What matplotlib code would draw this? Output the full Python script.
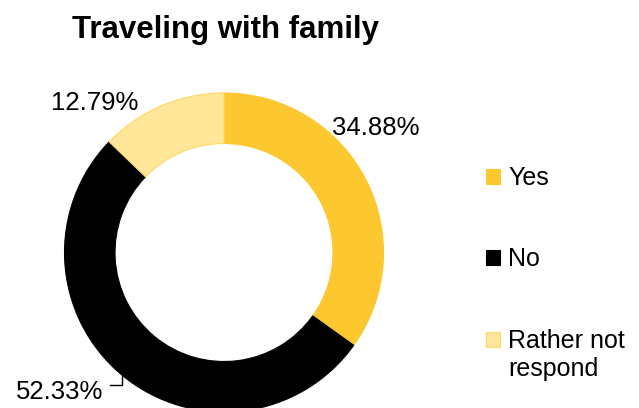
import matplotlib
matplotlib.use("Agg")
import matplotlib.pyplot as plt
import numpy as np

plt.rcParams["font.family"] = ["Liberation Sans", "DejaVu Sans"]

# 回答の内訳
title = "Traveling with family"
categories = ["Yes", "No", "Rather not respond"]
shares = [34.88, 52.33, 12.79]
colors = ["#FDC82F", "#000000", "#FFE699"]
edge_colors = ["#FDC82F", "#000000", "#FFD966"]

# 描画位置（ピクセル座標、y は下から）
W, H = 639, 408
cx, cy, r_out, ring = 224, 155.5, 159.5, 50.5
label_pos = [(376, 273), (60, 9), (94.5, 298)]

fig = plt.figure(figsize=(W / 100, H / 100), dpi=100)
ax = fig.add_axes([0, 0, 1, 1])

wedges, _ = ax.pie(shares, colors=colors, startangle=90, counterclock=False,
                   center=(cx, cy), radius=r_out,
                   wedgeprops=dict(width=ring, linewidth=0.8))
for w, ec in zip(wedges, edge_colors):
    w.set_edgecolor(ec)

ax.set_xlim(0, W)
ax.set_ylim(0, H)
ax.set_aspect("equal")
ax.axis("off")

for val, (tx, ty) in zip(shares, label_pos):
    ax.text(tx, ty, f"{val:.2f}%", ha="center", va="baseline", fontsize=18.5)

# "No" のラベルは引き出し線つき
mid = np.deg2rad((wedges[1].theta1 + wedges[1].theta2) / 2)
ex, ey = cx + r_out * np.cos(mid), cy + r_out * np.sin(mid)
ax.plot([ex - 12, ex, ex], [ey - 10, ey - 10, ey], color="black", lw=1)

ax.text(225, 369.7, title, ha="center", va="baseline",
        fontsize=22.5, fontweight="bold")

# 凡例：長いラベルは2行目を別テキストにして、マーカーを1行目にそろえる
first, _, second = categories[2].rpartition(" ")
leg = ax.legend(wedges, categories[:2] + [first], loc="upper left",
                bbox_to_anchor=(486, 242), bbox_transform=ax.transData,
                frameon=False, fontsize=18, handlelength=0.56,
                handleheight=0.56, handletextpad=0.32, labelspacing=2.3,
                borderpad=0, borderaxespad=0)
fig.canvas.draw()
bb = leg.get_texts()[2].get_window_extent()
ax.text(bb.x0, bb.y0 + 5 - 28, second, ha="left", va="baseline", fontsize=18)

fig.savefig("out.png", dpi=100)
